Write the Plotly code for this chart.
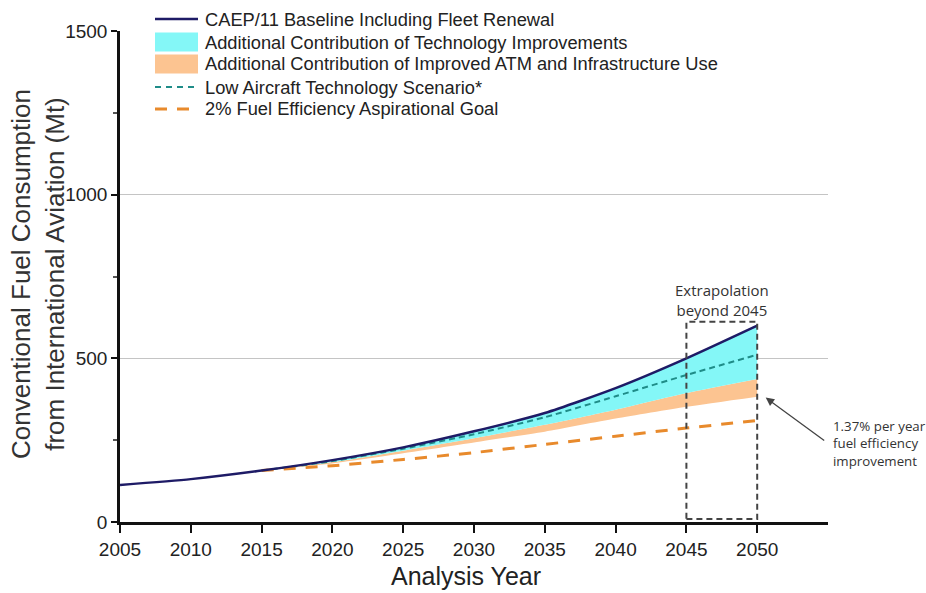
import plotly.graph_objects as go

# ---- data (Mt of conventional fuel) ----
years_all = [2005, 2010, 2015, 2020, 2025, 2030, 2035, 2040, 2045, 2050]
baseline = [113, 131, 157, 189, 228, 277, 333, 409, 500, 600]

years_proj = [2015, 2020, 2025, 2030, 2035, 2040, 2045, 2050]
low_tech = [157, 186, 224, 268, 320, 384, 449, 511]
atm_top = [157, 183, 218, 256, 297, 343, 394, 437]      # baseline minus technology gains
atm_bottom = [157, 179, 210, 243, 276, 316, 352, 383]   # further minus ATM/infrastructure gains
goal_2pct = [157, 172, 191, 212, 237, 262, 287, 310]

x_ticks = [2005, 2010, 2015, 2020, 2025, 2030, 2035, 2040, 2045, 2050]
y_ticks = [0, 500, 1000, 1500]

extrap_start, extrap_end = 2045, 2050

legend_labels = [
    "CAEP/11 Baseline Including Fleet Renewal",
    "Additional Contribution of Technology Improvements",
    "Additional Contribution of Improved ATM and Infrastructure Use",
    "Low Aircraft Technology Scenario*",
    "2% Fuel Efficiency Aspirational Goal",
]

# ---- styling ----
NAVY = "#1e1b66"
TEAL = "#1f8c88"
ORANGE_DASH = "#e88a2c"
CYAN_FILL = "#84f7f7"
ORANGE_FILL = "#fcc491"
TEXT = "#222222"
SANS = "Liberation Sans, Arial, sans-serif"
CAL = "Open Sans, Lato, sans-serif"

W, H = 926, 593
L, R, T, B = 120, 98, 31, 71
PW, PH = W - L - R, H - T - B


def px(xp):
    return (xp - L) / PW


def py(yp):
    return (H - B - yp) / PH


fig = go.Figure()

fig.add_trace(go.Scatter(x=years_proj, y=atm_bottom, mode="lines",
                         line=dict(width=0, shape="spline", smoothing=0.6),
                         showlegend=False, hoverinfo="skip"))
fig.add_trace(go.Scatter(x=years_proj, y=atm_top, mode="lines", fill="tonexty",
                         fillcolor=ORANGE_FILL,
                         line=dict(width=0, shape="spline", smoothing=0.6),
                         name=legend_labels[2], showlegend=False))
fig.add_trace(go.Scatter(x=years_proj, y=baseline[2:], mode="lines", fill="tonexty",
                         fillcolor=CYAN_FILL,
                         line=dict(width=0, shape="spline", smoothing=0.6),
                         name=legend_labels[1], showlegend=False))
fig.add_trace(go.Scatter(x=years_proj, y=low_tech, mode="lines",
                         line=dict(color=TEAL, width=2, dash="6px,4px",
                                   shape="spline", smoothing=0.6),
                         name=legend_labels[3], showlegend=False))
fig.add_trace(go.Scatter(x=years_proj, y=goal_2pct, mode="lines",
                         line=dict(color=ORANGE_DASH, width=3, dash="12px,10px",
                                   shape="spline", smoothing=0.6),
                         name=legend_labels[4], showlegend=False))
fig.add_trace(go.Scatter(x=years_all, y=baseline, mode="lines",
                         line=dict(color=NAVY, width=2.5, shape="spline", smoothing=0.6),
                         name=legend_labels[0], showlegend=False))

shapes = []
annotations = []

# extrapolation box
shapes.append(dict(type="rect", xref="x", yref="y", x0=extrap_start, x1=extrap_end,
                   y0=9, y1=612, line=dict(color="#444444", width=2, dash="6px,4px")))
annotations.append(dict(xref="x", yref="y", x=(extrap_start + extrap_end) / 2, y=665,
                        yanchor="bottom", yshift=-18,
                        text="Extrapolation<br>beyond 2045", showarrow=False,
                        font=dict(family=CAL, size=15, color="#333333"),
                        xanchor="center", align="center"))

# arrow to the 2050 end of the ATM band
annotations.append(dict(xref="x", yref="y", x=extrap_end + 0.6, y=380, text="",
                        showarrow=True, arrowhead=2, arrowsize=1.3, arrowwidth=1.3,
                        arrowcolor="#444444", ax=60, ay=44))
annotations.append(dict(xref="paper", yref="paper", x=px(831), y=py(443),
                        text="1.37% per year<br>fuel efficiency<br>improvement",
                        showarrow=False, xanchor="left", yanchor="middle", align="left",
                        font=dict(family=CAL, size=13.3, color="#333333")))

# axis titles placed as free text
annotations.append(dict(xref="paper", yref="paper", x=px(38), y=py(274),
                        text="Conventional Fuel Consumption<br>from International Aviation (Mt)",
                        textangle=-90, showarrow=False, xanchor="center", yanchor="middle",
                        font=dict(family=SANS, size=26, color="#333333")))
annotations.append(dict(xref="paper", yref="paper", x=px(466), y=py(592),
                        text="Analysis Year", showarrow=False,
                        xanchor="center", yanchor="bottom",
                        font=dict(family=SANS, size=25, color=TEXT)))

# legend drawn by hand: symbols + labels
rows = [19, 42, 64, 87, 109]
sx0, sx1 = 155, 198
shapes.append(dict(type="line", xref="paper", yref="paper", x0=px(sx0), x1=px(sx1),
                   y0=py(rows[0]), y1=py(rows[0]), line=dict(color=NAVY, width=2.5)))
shapes.append(dict(type="rect", xref="paper", yref="paper", x0=px(sx0), x1=px(sx1),
                   y0=py(rows[1] + 9.5), y1=py(rows[1] - 9.5),
                   fillcolor=CYAN_FILL, line=dict(width=0)))
shapes.append(dict(type="rect", xref="paper", yref="paper", x0=px(sx0), x1=px(sx1),
                   y0=py(rows[2] + 9.5), y1=py(rows[2] - 9.5),
                   fillcolor=ORANGE_FILL, line=dict(width=0)))
shapes.append(dict(type="line", xref="paper", yref="paper", x0=px(sx0), x1=px(sx1),
                   y0=py(rows[3]), y1=py(rows[3]),
                   line=dict(color=TEAL, width=2, dash="6px,5px")))
shapes.append(dict(type="line", xref="paper", yref="paper", x0=px(sx0), x1=px(sx1),
                   y0=py(rows[4]), y1=py(rows[4]),
                   line=dict(color=ORANGE_DASH, width=3, dash="12px,10px")))
for label, r in zip(legend_labels, rows):
    annotations.append(dict(xref="paper", yref="paper", x=px(203), y=py(r), text=label,
                            showarrow=False, xanchor="left", yanchor="middle",
                            font=dict(family=SANS, size=18.3, color=TEXT)))

fig.update_layout(
    width=W, height=H,
    margin=dict(l=L, r=R, t=T, b=B, autoexpand=False),
    paper_bgcolor="white", plot_bgcolor="white",
    showlegend=False,
    shapes=shapes, annotations=annotations,
    font=dict(family=SANS, color=TEXT),
)
fig.update_xaxes(
    range=[2005, 2055], tickvals=x_ticks, ticks="outside", ticklen=8, tickwidth=2,
    tickcolor="#111111", showline=True, linecolor="#111111", linewidth=2.5,
    showgrid=False, zeroline=False, tickfont=dict(size=19, color=TEXT),
    automargin=False,
)
fig.update_yaxes(
    range=[0, 1500], tickvals=y_ticks, ticks="outside", ticklen=6, tickwidth=2,
    tickcolor="#111111", showline=True, linecolor="#111111", linewidth=2.5,
    showgrid=True, gridcolor="#c4c4c4", gridwidth=1, zeroline=False,
    minor=dict(tickvals=[250, 750, 1250], ticks="outside", ticklen=4,
               tickcolor="#555555", showgrid=False),
    tickfont=dict(size=19, color=TEXT), automargin=False,
)

fig.write_html("out.html")
